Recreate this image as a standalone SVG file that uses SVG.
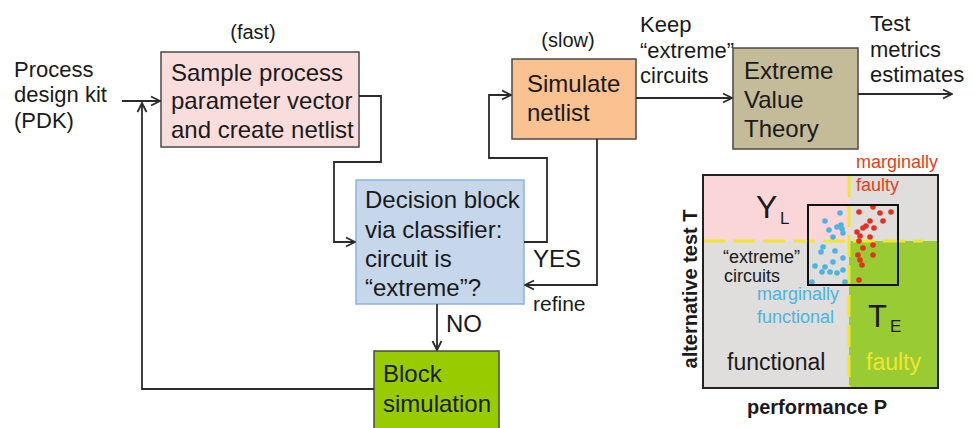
<svg xmlns="http://www.w3.org/2000/svg" width="975" height="428" viewBox="0 0 975 428">
  <style>
    text { font-family: "Liberation Sans", Arial, sans-serif; fill: #1a1a1a; }
    .t24 { font-size: 24px; }
    .t22 { font-size: 22px; }
    .t20 { font-size: 20px; }
    .lbl { font-size: 18px; }
    .axis { font-size: 20px; font-weight: bold; }
    .wire { fill: none; stroke: #2b2b2b; stroke-width: 1.8; }
    .box { stroke: #4a4a4a; stroke-width: 1.5; }
    .dash { stroke: #f2e530; stroke-width: 3; stroke-dasharray: 22 8; fill: none; }
    .blue { fill: #4cb3e3; }
    .red { fill: #e2311d; }
  </style>
  <defs>
    <marker id="arrow" viewBox="0 0 12 12" refX="11" refY="6" markerWidth="12" markerHeight="12" markerUnits="userSpaceOnUse" orient="auto">
      <path d="M2,1.5 L11,6 L2,10.5" fill="none" stroke="#2b2b2b" stroke-width="1.8"/>
    </marker>
  </defs>

  <rect width="975" height="428" fill="#ffffff"/>

  <!-- input label -->
  <g id="pdk">
    <text class="t22" x="14" y="77">Process</text>
    <text class="t22" x="14" y="102">design kit</text>
    <text class="t22" x="14" y="128">(PDK)</text>
  </g>

  <!-- sampling step -->
  <g id="sample">
    <text class="t20" x="253" y="39" text-anchor="middle">(fast)</text>
    <rect class="box" x="161" y="52" width="198" height="95" fill="#f9dcdc"/>
    <text class="t24" x="171" y="81">Sample process</text>
    <text class="t24" x="171" y="109">parameter vector</text>
    <text class="t24" x="171" y="138">and create netlist</text>
  </g>

  <!-- classifier decision -->
  <g id="decision">
    <rect x="356" y="180" width="168" height="124" fill="#c6d7ec" stroke="#8fb2de" stroke-width="1.5"/>
    <text class="t24" x="365" y="208">Decision block</text>
    <text class="t24" x="365" y="238">via classifier:</text>
    <text class="t24" x="365" y="267">circuit is</text>
    <text class="t24" x="365" y="296">“extreme”?</text>
  </g>

  <!-- block simulation -->
  <g id="blocksim">
    <rect class="box" x="374" y="351" width="125" height="80" fill="#99cc00"/>
    <text class="t24" x="383" y="382">Block</text>
    <text class="t24" x="383" y="412">simulation</text>
  </g>

  <!-- slow simulation -->
  <g id="simulate">
    <text class="t20" x="568" y="47" text-anchor="middle">(slow)</text>
    <rect class="box" x="512" y="59" width="124" height="80" fill="#fac191"/>
    <text class="t24" x="527" y="92">Simulate</text>
    <text class="t24" x="527" y="121">netlist</text>
  </g>

  <!-- extreme value theory -->
  <g id="evt">
    <rect class="box" x="733" y="48" width="125" height="101" fill="#c4bc98"/>
    <text class="t24" x="744" y="79">Extreme</text>
    <text class="t24" x="744" y="108">Value</text>
    <text class="t24" x="744" y="137">Theory</text>
  </g>

  <!-- output label -->
  <g id="metrics">
    <text class="t22" x="870" y="31">Test</text>
    <text class="t22" x="870" y="57">metrics</text>
    <text class="t22" x="870" y="82">estimates</text>
  </g>

  <!-- connectors -->
  <g id="connectors">
    <path class="wire" d="M122,101 H160" marker-end="url(#arrow)"/>
    <path class="wire" d="M374,389 H142 V103" marker-end="url(#arrow)"/>
    <path class="wire" d="M359,96 H381 V162 H334 V242 H355" marker-end="url(#arrow)"/>
    <path class="wire" d="M524,242 H547 V158 H489 V95 H511" marker-end="url(#arrow)"/>
    <path class="wire" d="M597,139 V285 H525" marker-end="url(#arrow)"/>
    <path class="wire" d="M437,304 V350" marker-end="url(#arrow)"/>
    <path class="wire" d="M636,98 H732" marker-end="url(#arrow)"/>
    <path class="wire" d="M858,94 H952" marker-end="url(#arrow)"/>
    <text class="t22" x="640" y="32">Keep</text>
    <text class="t22" x="640" y="58">“extreme”</text>
    <text class="t22" x="640" y="83">circuits</text>
    <text class="t24" x="533" y="267">YES</text>
    <text x="533" y="311" style="font-size:21px">refine</text>
    <text class="t24" x="446" y="332">NO</text>
  </g>

  <!-- performance / test plane -->
  <g id="plot">
    <rect x="703" y="175" width="235" height="213" fill="#e0dddd"/>
    <rect x="703" y="175" width="146" height="66" fill="#fbd6d9"/>
    <rect x="849" y="241" width="89" height="147" fill="#99cc33"/>
    <path class="dash" d="M703,241 H923"/>
    <path class="dash" d="M849,175 V388"/>

    <g id="dots">
      <circle class="blue" cx="840" cy="213" r="2.8"/>
      <circle class="blue" cx="825" cy="221" r="2.8"/>
      <circle class="blue" cx="837" cy="227" r="2.8"/>
      <circle class="blue" cx="841" cy="225" r="2.8"/>
      <circle class="blue" cx="829" cy="230" r="2.8"/>
      <circle class="blue" cx="833" cy="237" r="2.8"/>
      <circle class="blue" cx="843" cy="233" r="2.8"/>
      <circle class="blue" cx="842" cy="229" r="2.8"/>
      <circle class="blue" cx="823" cy="247" r="2.8"/>
      <circle class="blue" cx="821" cy="252" r="2.8"/>
      <circle class="blue" cx="835" cy="251" r="2.8"/>
      <circle class="blue" cx="843" cy="258" r="2.8"/>
      <circle class="blue" cx="833" cy="262" r="2.8"/>
      <circle class="blue" cx="825" cy="267" r="2.8"/>
      <circle class="blue" cx="815" cy="266" r="2.8"/>
      <circle class="blue" cx="822" cy="272" r="2.8"/>
      <circle class="blue" cx="830" cy="272" r="2.8"/>
      <circle class="blue" cx="837" cy="273" r="2.8"/>
      <circle class="blue" cx="843" cy="270" r="2.8"/>
      <circle class="blue" cx="845" cy="282" r="2.8"/>
      <circle class="blue" cx="812" cy="282" r="2.8"/>
      <circle class="red" cx="873" cy="207" r="2.8"/>
      <circle class="red" cx="859" cy="212" r="2.8"/>
      <circle class="red" cx="880" cy="213" r="2.8"/>
      <circle class="red" cx="891" cy="212" r="2.8"/>
      <circle class="red" cx="883" cy="221" r="2.8"/>
      <circle class="red" cx="870" cy="221" r="2.8"/>
      <circle class="red" cx="866" cy="226" r="2.8"/>
      <circle class="red" cx="863" cy="228" r="2.8"/>
      <circle class="red" cx="874" cy="228" r="2.8"/>
      <circle class="red" cx="857" cy="232" r="2.8"/>
      <circle class="red" cx="860" cy="236" r="2.8"/>
      <circle class="red" cx="870" cy="237" r="2.8"/>
      <circle class="red" cx="859" cy="241" r="2.8"/>
      <circle class="red" cx="863" cy="248" r="2.8"/>
      <circle class="red" cx="873" cy="245" r="2.8"/>
      <circle class="red" cx="858" cy="255" r="2.8"/>
      <circle class="red" cx="873" cy="255" r="2.8"/>
      <circle class="red" cx="860" cy="260" r="2.8"/>
      <circle class="red" cx="862" cy="265" r="2.8"/>
      <circle class="red" cx="859" cy="280" r="2.8"/>
    </g>

    <rect x="808" y="205" width="90" height="80" fill="none" stroke="#111" stroke-width="2"/>
    <rect x="703" y="175" width="235" height="213" fill="none" stroke="#222" stroke-width="2"/>

    <text x="756" y="218" style="font-size:32px">Y</text>
    <text x="780" y="224" style="font-size:17px">L</text>
    <text x="868" y="327" style="font-size:31px">T</text>
    <text x="890" y="332" style="font-size:17px">E</text>

    <text class="lbl" x="723" y="263">“extreme”</text>
    <text class="lbl" x="724" y="282">circuits</text>
    <text class="lbl" x="757" y="300" style="fill:#4cb3e3">marginally</text>
    <text class="lbl" x="757" y="323" style="fill:#4cb3e3">functional</text>
    <text x="727" y="370" style="font-size:23px">functional</text>
    <text x="866" y="370" style="font-size:23px;fill:#f2e530">faulty</text>
    <text class="lbl" x="856" y="168" style="fill:#e2401d">marginally</text>
    <text class="lbl" x="856" y="191" style="fill:#e2401d">faulty</text>

    <text class="axis" x="0" y="0" text-anchor="middle" transform="translate(697,289) rotate(-90)">alternative test T</text>
    <text class="axis" x="817" y="414" text-anchor="middle">performance P</text>
  </g>
</svg>
